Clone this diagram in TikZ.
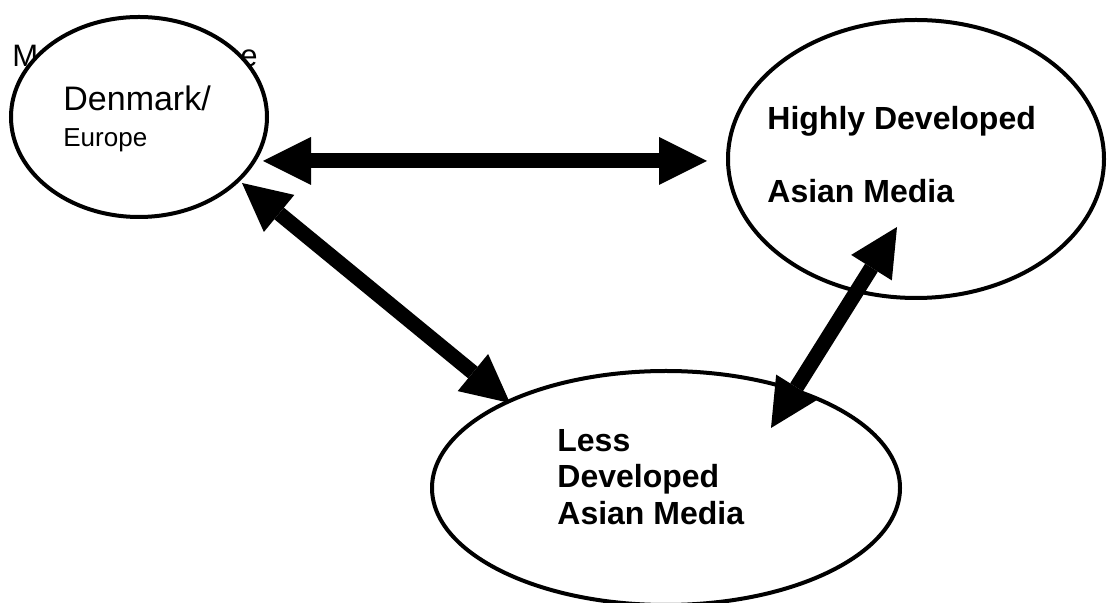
\documentclass[tikz,border=0pt]{standalone}
\usepackage{fontspec}
\setmainfont{Liberation Sans}
\usetikzlibrary{shapes.geometric, arrows.meta}

\tikzset{
  blob/.style={ellipse, draw, fill=white, line width=2pt, inner sep=0pt},
  txt/.style={anchor=base west, inner sep=0pt},
  bigtxt/.style={txt, font=\fontsize{16}{19}\selectfont\bfseries},
  biarrow/.style={line width=7.5pt,
    {Triangle[length=24pt,width=24pt,line width=0pt]}-{Triangle[length=24pt,width=24pt,line width=0pt]}}
}

\begin{document}
\begin{tikzpicture}[x=0.5pt,y=-0.5pt]
\useasboundingbox (0,0) rectangle (1114,603);
% Heading, mostly hidden by the first ellipse
\node[txt, font=\fontsize{15.5}{18}\selectfont] (mfrag) at (12,67) {M};
\node[txt, font=\fontsize{15.5}{18}\selectfont] (efrag) at (240,67) {e};
% Ellipses
\node[blob, minimum width=128pt, minimum height=100pt] (dk) at (139,117) {};
\node[blob, minimum width=188pt, minimum height=139pt] (hi) at (916,159) {};
\node[blob, minimum width=234pt, minimum height=117pt] (lo) at (666,488) {};
% Labels
\node[txt, font=\fontsize{17}{20}\selectfont] (dk1) at (63,111) {Denmark/};
\node[txt, font=\fontsize{13}{15}\selectfont] (dk2) at (63,147) {Europe};
\node[bigtxt] (hi1) at (767,130) {Highly Developed};
\node[bigtxt] (hi2) at (767,203) {Asian Media};
\node[bigtxt] (lo1) at (557,452) {Less};
\node[bigtxt] (lo2) at (557,488) {Developed};
\node[bigtxt] (lo3) at (557,525) {Asian Media};
% Arrow ends
\coordinate (dkE) at (263,161);
\coordinate (hiW) at (707,161);
\coordinate (dkS) at (242,183);
\coordinate (loN) at (510,403);
\coordinate (hiS) at (897,227);
\coordinate (loE) at (771,428);
% Arrows
\draw[biarrow] (dkE) -- (hiW);
\draw[biarrow] (dkS) -- (loN);
\draw[biarrow] (loE) -- (hiS);
\end{tikzpicture}
\end{document}
